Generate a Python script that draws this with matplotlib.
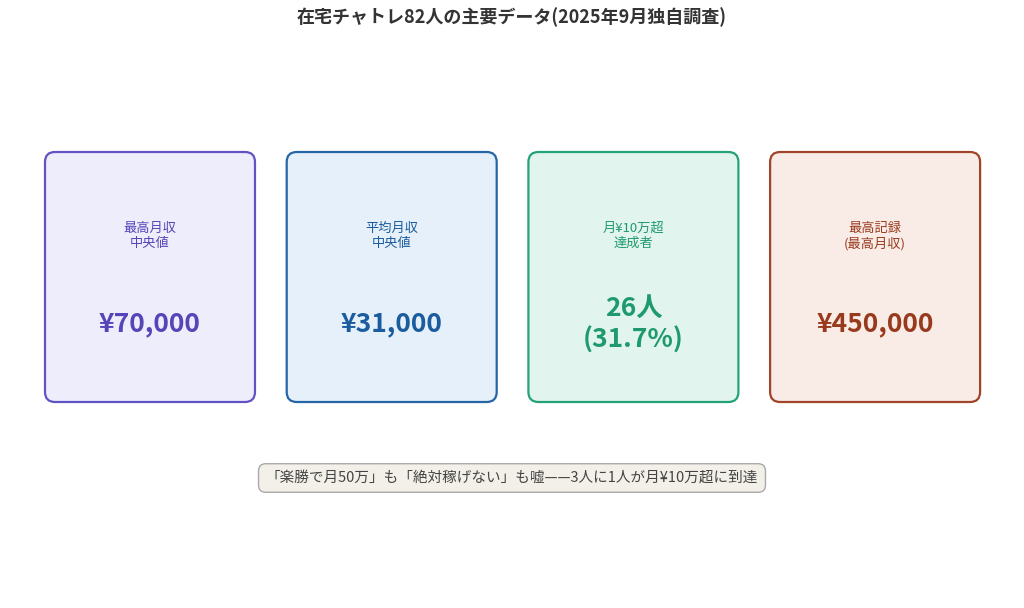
import matplotlib.pyplot as plt
from matplotlib.patches import FancyBboxPatch

plt.rcParams['font.family'] = ['Noto Sans CJK JP', 'DejaVu Sans']

title = "在宅チャトレ82人の主要データ(2025年9月独自調査)"
labels = ["最高月収\n中央値", "平均月収\n中央値", "月¥10万超\n達成者", "最高記録\n(最高月収)"]
values = ["¥70,000", "¥31,000", "26人\n(31.7%)", "¥450,000"]
edge_colors = ["#6153c4", "#2566a8", "#24a27a", "#a2442a"]
face_colors = ["#eeedfc", "#e6f0fa", "#e1f4ed", "#f9ece7"]
text_colors = ["#5545b8", "#1a5c9e", "#1f9a6e", "#983a1e"]
note = "「楽勝で月50万」も「絶対稼げない」も嘘——3人に1人が月¥10万超に到達"

fig = plt.figure(figsize=(10.24, 6.08), dpi=100)
ax = fig.add_axes([0, 0, 1, 1])
ax.set_xlim(0, 1024)
ax.set_ylim(608, 0)
ax.axis("off")

fig.text(0.5, 1 - 17 / 608, title, ha="center", va="center",
         fontsize=13, fontweight="bold", color="#333333")

# cards
x0, w, step = 45, 210, 241.7
top, h = 152, 250
for i, (lab, val) in enumerate(zip(labels, values)):
    x = x0 + i * step
    box = FancyBboxPatch((x + 10, top + 10), w - 20, h - 20,
                         boxstyle="round,pad=10", linewidth=1.6,
                         edgecolor=edge_colors[i], facecolor=face_colors[i])
    ax.add_patch(box)
    cx = x + w / 2
    ax.text(cx, 236, lab, ha="center", va="center", fontsize=9.5,
            color=text_colors[i], linespacing=1.2)
    ax.text(cx, 324, val, ha="center", va="center", fontsize=19,
            fontweight="bold", color=text_colors[i], linespacing=1.22)

# footer note
ax.text(512, 478, note, ha="center", va="center", fontsize=10.5, color="#444444",
        bbox=dict(boxstyle="round,pad=0.5", facecolor="#f3f0e9",
                  edgecolor="#aaaaaa", linewidth=1))

fig.savefig("out.png", dpi=100)
